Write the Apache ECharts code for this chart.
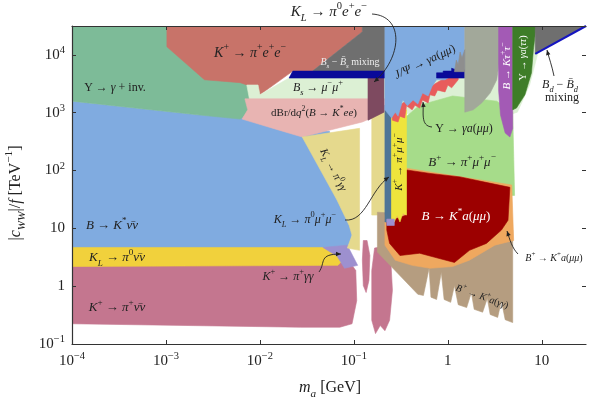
<!DOCTYPE html>
<html><head><meta charset="utf-8">
<script src="https://cdn.jsdelivr.net/npm/echarts@6/dist/echarts.min.js"></script>
<style>html,body{margin:0;padding:0;background:#fff}#c{width:589px;height:398px}</style>
</head><body><div id="c"></div>
<script>
// Region outlines.
// Each vertex: [log10(m_a / GeV), log10(|c_WW|/f / TeV^-1)]
const regB_Kstar_nunu = [[-4,3.20],[-2.64,2.96],[-2.16,2.93],[-1.57,2.70],[-1.26,2.68],[-1.10,1.49],[-1.01,0.97],[-1.06,0.62],[-4,0.62]];
const regUps_inv = [[-4,4.5],[-2.11,4.5],[-2.11,3.48],[-2.07,3.22],[-2.11,3.01],[-2.21,2.89],[-2.64,2.96],[-4,3.20]];
const regK_pi_nunu = [[-4,0.41],[-1.04,0.41],[-0.98,0.27],[-0.97,-0.25],[-1.02,-0.65],[-1.15,-0.71],[-1.57,-0.71],[-4,-0.65]];
const regK_pi_nunu_b1 = [[-0.90,0.79],[-0.86,0.79],[-0.83,0.53],[-0.84,0.10],[-0.87,-0.11],[-0.90,0.01],[-0.91,0.45]];
const regK_pi_nunu_b2 = [[-0.78,0.66],[-0.67,0.69],[-0.61,0.53],[-0.59,-0.07],[-0.62,-0.59],[-0.67,-0.77],[-0.72,-0.68],[-0.77,-0.82],[-0.81,-0.59],[-0.81,0.27]];
const regKL_pi0_nunu = [[-4,0.67],[-1.33,0.67],[-1.15,0.59],[-1.10,0.48],[-1.17,0.36],[-4,0.34]];
const regK_pi_gg = [[-1.33,0.67],[-1.07,0.71],[-0.96,0.36],[-1.10,0.31],[-1.18,0.52]];
const regK_pi_ee = [[-2.99,4.5],[-0.91,4.5],[-0.91,4.40],[-1.44,3.72],[-1.65,3.72],[-2.0,3.31],[-2.05,3.43],[-2.21,3.52],[-2.59,3.57],[-2.99,4.14]];
const regBs_mumu_a = [[-2.14,3.48],[-2.02,3.48],[-2.0,3.31],[-1.69,3.60],[-0.67,3.60],[-0.67,3.22],[-2.11,3.22]];
const regBs_mumu_b = [[-0.67,3.60],[0.18,3.71],[0.98,4.5],[0.98,4.17],[0.87,3.48],[0.74,3.01],[0.55,2.91],[0.23,2.91],[-0.67,3.01]];
const regB_Kstar_ee = [[-2.16,3.24],[-0.67,3.24],[-0.67,3.01],[-0.91,2.84],[-1.55,2.58],[-1.84,2.72],[-2.19,2.89],[-2.13,3.05]];
const regKL_pi0_gg_a = [[-1.55,2.58],[-0.94,2.73],[-0.94,0.62],[-1.07,0.66],[-1.02,0.88],[-1.05,1.05],[-1.18,1.49]];
const regKL_pi0_gg_b = [[-0.81,2.93],[-0.67,3.01],[-0.67,1.23],[-0.81,1.23]];
const regKL_pi0_ee = [[-0.85,3.60],[-0.68,3.60],[-0.68,3.01],[-0.85,2.87]];
const regBs_mix = [[-1.44,3.72],[-0.91,4.40],[-0.91,4.5],[-0.67,4.5],[-0.67,3.72]];
const regBs_mix_band = [[-1.65,3.72],[-0.67,3.72],[-0.67,3.60],[-1.69,3.60]];
const regB_pi_mumu = [[-0.46,2.91],[-0.30,3.13],[0.05,3.29],[0.52,3.20],[0.69,3.01],[0.71,1.57],[-0.46,1.57]];
const regB_K_gg = [[-0.75,1.28],[-0.56,1.26],[0.69,0.97],[0.69,-0.63],[0.61,-0.58],[0.57,-0.25],[0.53,-0.54],[0.45,-0.49],[0.42,-0.21],[0.37,-0.45],[0.28,-0.40],[0.25,-0.11],[0.20,-0.37],[0.11,-0.32],[0.07,0.01],[0.03,-0.28],[-0.04,-0.23],[-0.07,0.24],[-0.12,-0.23],[-0.18,-0.19],[-0.20,0.31],[-0.26,-0.16],[-0.32,-0.14],[-0.75,0.59]];
const regB_K_mumu = [[-0.67,1.23],[-0.44,2.04],[0.68,1.75],[0.70,0.79],[0.50,0.71],[0.23,0.45],[0.05,0.34],[-0.19,0.31],[-0.38,0.36],[-0.56,0.45],[-0.67,0.71]];
const regB_Kstar_mumu = [[-0.44,2.01],[-0.19,1.95],[0.13,1.89],[0.39,1.80],[0.66,1.71],[0.64,1.14],[0.57,0.97],[0.41,0.74],[0.23,0.62],[0.07,0.41],[-0.14,0.50],[-0.30,0.57],[-0.51,0.53],[-0.62,0.74],[-0.65,0.97],[-0.65,1.11],[-0.44,1.23]];
const regKL_pi0_mumu = [[-0.67,3.13],[-0.60,3.13],[-0.60,1.11],[-0.67,1.11]];
const regK_pi_mumu = [[-0.60,2.93],[-0.44,3.05],[-0.44,1.23],[-0.48,1.26],[-0.51,1.11],[-0.54,1.23],[-0.57,1.11],[-0.60,1.11]];
const regK_pi_gg_b = [[-0.65,1.16],[-0.57,1.16],[-0.57,1.05],[-0.65,1.05]];
const regUps_mumu = [[-0.60,3.05],[0.11,3.74],[0.11,3.57],[0.04,3.43],[0.0,3.48],[-0.03,3.36],[-0.11,3.39],[-0.14,3.29],[-0.19,3.31],[-0.21,3.17],[-0.27,3.22],[-0.30,3.08],[-0.35,3.13],[-0.38,3.05],[-0.44,3.12],[-0.46,2.91],[-0.51,2.94],[-0.53,2.84],[-0.59,2.87]];
const regJpsi = [[-0.67,4.5],[0.18,4.5],[0.18,3.71],[0.11,3.62],[0.02,3.62],[-0.03,3.57],[-0.12,3.57],[-0.17,3.45],[-0.21,3.29],[-0.27,3.34],[-0.32,3.15],[-0.37,3.22],[-0.43,3.12],[-0.48,3.22],[-0.53,2.94],[-0.56,3.01],[-0.60,2.91],[-0.67,3.05]];
const regJpsi_band = [[-0.12,3.60],[-0.12,3.69],[-0.05,3.69],[-0.05,3.72],[0.04,3.72],[0.04,3.77],[0.09,3.74],[0.18,3.74],[0.18,3.60]];
const regSage = [[0.18,4.5],[0.55,4.5],[0.55,3.91],[0.52,3.57],[0.45,3.34],[0.36,3.17],[0.27,3.05],[0.18,3.01]];
const regSage_spikes = [[0.07,3.71],[0.09,3.91],[0.11,3.83],[0.13,4.05],[0.15,3.95],[0.18,4.09],[0.18,3.71]];
const regB_K_tautau = [[0.54,4.5],[0.69,4.5],[0.69,2.73],[0.66,2.58],[0.61,2.65],[0.56,2.96],[0.54,3.39]];
const regUps_tautau = [[0.69,4.5],[0.94,4.5],[0.91,4.09],[0.89,3.69],[0.82,3.31],[0.73,3.08],[0.69,3.05]];
const regBd_mix = [[0.93,4.5],[1.47,4.5],[0.93,4.02]];
const lineBd_mix = [[0.93,4.02],[1.47,4.5]];

// Axis ranges (log10) and tick positions (log10)
const xRange = [-4, 1.47];
const yRange = [-1, 4.5];
const xTickExps = [-4,-3,-2,-1,0,1];
const yTickExps = [-1,0,1,2,3,4];

const SERIF = '"Liberation Serif","DejaVu Serif",serif';
const p10 = e => Math.pow(10,e);
const toVal = a => a.map(([x,y]) => [p10(x), p10(y)]);

const layers = [
  [regB_Kstar_nunu,'#80ABE0'],[regUps_inv,'#7DBB98'],
  [regK_pi_nunu,'#C4768F'],[regK_pi_nunu_b1,'#C4768F'],[regK_pi_nunu_b2,'#C4768F'],
  [regKL_pi0_nunu,'#F1D13C'],[regK_pi_gg,'#9D90CF'],
  [regK_pi_ee,'#C87369'],[regBs_mumu_a,'#DCF0D4'],[regBs_mumu_b,'#DCF0D4'],
  [regB_Kstar_ee,'#E8B4B2'],[regKL_pi0_gg_a,'#E5D98D'],[regKL_pi0_gg_b,'#E5D98D'],
  [regKL_pi0_ee,'#7E4A60'],[regBs_mix,'#6F6F6F'],[regBs_mix_band,'#0A0A99'],
  [regB_pi_mumu,'#A6DC8A'],[regB_K_gg,'#B59D80'],[regB_K_mumu,'#EFA85F'],[regB_Kstar_mumu,'#9C0000'],
  [regKL_pi0_mumu,'#4F7597'],[regK_pi_mumu,'#EEE43C'],[regK_pi_gg_b,'#9D90CF'],
  [regUps_mumu,'#E85C5C'],[regJpsi,'#80ABE0'],[regJpsi_band,'#0A0A99'],
  [regSage,'#A2A89A'],[regSage_spikes,'#8E8E8E'],[regB_K_tautau,'#A35AB5'],[regUps_tautau,'#3E7D28'],
  [regBd_mix,'#6F6F6F']
];

const series = layers.map(([pts,color]) => ({
  type:'custom', coordinateSystem:'cartesian2d', silent:true, clip:true, z:2,
  data:[toVal(pts)[0]],
  renderItem:(params,api)=>({type:'polygon',shape:{points:toVal(pts).map(p=>api.coord(p))},style:{fill:color,stroke:color,lineWidth:0.6}})
}));
series.push({type:'line', data:toVal(lineBd_mix), symbol:'none', silent:true, z:3, lineStyle:{color:'#1515C0',width:2}});

function rich(fs,color){
  const b={fontFamily:SERIF,fill:color,color:color};
  return {
    r:Object.assign({},b,{fontSize:fs,lineHeight:fs*1.5}),
    i:Object.assign({},b,{fontSize:fs,fontStyle:'italic',lineHeight:fs*1.5}),
    p:Object.assign({},b,{fontSize:fs*0.7,verticalAlign:'top',lineHeight:fs*0.9}),
    b:Object.assign({},b,{fontSize:fs*0.7,fontStyle:'italic',verticalAlign:'bottom',lineHeight:fs*0.9})
  };
}
function label(x,y,text,fs,color,rot){
  color=color||'#222';
  return {type:'text',x,y,rotation:rot||0,z:100,silent:true,
    style:{text,rich:rich(fs,color),fill:color,font:fs+'px '+SERIF,align:'center',verticalAlign:'middle',textAlign:'center',textVerticalAlign:'middle'}};
}
function arrow(x1,y1,c1x,c1y,c2x,c2y,x2,y2){
  const a=Math.atan2(y2-c2y,x2-c2x),L=5,W=2.2,c=Math.cos(a),s=Math.sin(a);
  return [{type:'bezierCurve',z:100,silent:true,shape:{x1,y1,cpx1:c1x,cpy1:c1y,cpx2:c2x,cpy2:c2y,x2,y2},style:{stroke:'#222',lineWidth:0.9,fill:'none'}},
    {type:'polygon',z:100,silent:true,shape:{points:[[x2,y2],[x2-L*c+W*s,y2-L*s-W*c],[x2-L*c-W*s,y2-L*s+W*c]]},style:{fill:'#222'}}];
}
const W='#fff';
const graphics = [
  label(329,12,'{i|K}{b|L}{r| → }{i|π}{p|0}{i|e}{p|+}{i|e}{p|−}',15),
  label(250,53,'{i|K}{p|+}{r| → }{i|π}{p|+}{i|e}{p|+}{i|e}{p|−}',14),
  label(350,62,'{i|B}{b|s}{r| − }{i|B̄}{b|s}{r| mixing}',10,'#eee'),
  label(318,88,'{i|B}{b|s}{r| → }{i|μ}{p|−}{i|μ}{p|+}',12),
  label(314,113,'{r|dBr/d}{i|q}{p|2}{r|(}{i|B}{r| → }{i|K}{p|*}{i|ee}{r|)}',11),
  label(333,170,'{i|K}{b|L}{r| → }{i|π}{p|0}{i|γγ}',11,null,-1.1),
  label(115,88,'{r|Υ → }{i|γ}{r| + inv.}',12),
  label(112,226,'{i|B}{r| → }{i|K}{p|*}{i|ν̄ν}',13),
  label(117,258,'{i|K}{b|L}{r| → }{i|π}{p|0}{i|ν̄ν}',13),
  label(117,308,'{i|K}{p|+}{r| → }{i|π}{p|+}{i|ν̄ν}',13),
  label(305,220,'{i|K}{b|L}{r| → }{i|π}{p|0}{i|μ}{p|+}{i|μ}{p|−}',12),
  label(288,277,'{i|K}{p|+}{r| → }{i|π}{p|+}{i|γγ}',12),
  label(425,62,'{i|J/Ψ}{r| → }{i|γa}{r|(}{i|μμ}{r|)}',12,null,0.44),
  label(464,129,'{r|Υ → }{i|γa}{r|(}{i|μμ}{r|)}',12),
  label(399,162,'{i|K}{p|+}{r| → }{i|π}{p|+}{i|μ}{p|+}{i|μ}{p|−}',11,null,Math.PI/2),
  label(462,163,'{i|B}{p|+}{r| → }{i|π}{p|+}{i|μ}{p|+}{i|μ}{p|−}',13),
  label(456,217,'{i|B}{r| → }{i|K}{p|*}{i|a}{r|(}{i|μμ}{r|)}',13,W),
  label(554,258,'{i|B}{p|+}{r| → }{i|K}{p|+}{i|a}{r|(}{i|μμ}{r|)}',10),
  label(482,297,'{i|B}{p|+}{r| → }{i|K}{p|+}{i|a}{r|(}{i|γγ}{r|)}',10,null,-0.34),
  label(507,66,'{i|B}{r| → }{i|Kτ}{p|+}{i|τ}{p|−}',11,W,Math.PI/2),
  label(523,58,'{r|Υ → }{i|γa}{r|(}{i|ττ}{r|)}',10,W,Math.PI/2),
  label(560,85,'{i|B}{b|d}{r| − }{i|B̄}{b|d}',12),
  label(562,98,'{r|mixing}',12),
  label(330,388,'{i|m}{b|a}{r| [GeV]}',16),
  label(16,193,'{r||}{i|c}{b|WW}{r||/}{i|f}{r| [TeV}{p|−1}{r|]}',16,null,Math.PI/2)
].concat(
  arrow(372,14,405,16,402,58,374,82),
  arrow(345,220,366,222,370,190,389,177),
  arrow(319,272,326,262,318,254,341,254),
  arrow(432,127,420,126,424,112,423,102),
  arrow(518,254,512,248,510,240,507,231),
  arrow(554,76,552,66,549,58,547,50)
);

function tickLabel(v){
  const le=Math.log10(v), e=Math.round(le);
  if(Math.abs(le-e)>1e-6) return '';
  if(e===0) return '{b|1}';
  if(e===1) return '{b|10}';
  return '{b|10}{s|'+(e<0?'−'+(-e):e)+'}';
}
const tickRich={b:{fontSize:15,fontFamily:SERIF,color:'#222',lineHeight:20},s:{fontSize:10.5,fontFamily:SERIF,color:'#222',verticalAlign:'top',lineHeight:10}};
const axLine={show:true,lineStyle:{color:'#333',width:1.2}};
const xTicks=xTickExps.map(p10), yTicks=yTickExps.map(p10);
const mkTick=vals=>({show:true,inside:true,length:4,lineStyle:{color:'#333',width:1},customValues:vals});

const chart=echarts.init(document.getElementById('c'),null,{renderer:'canvas'});
chart.setOption({
  animation:false,
  grid:{left:72,right:3,top:26,bottom:54},
  xAxis:[
    {type:'log',logBase:10,min:p10(xRange[0]),max:p10(xRange[1]),position:'bottom',z:10,axisLine:axLine,axisTick:mkTick(xTicks),splitLine:{show:false},minorTick:{show:false},
     axisLabel:{formatter:tickLabel,rich:tickRich,margin:7,customValues:xTicks}},
    {type:'log',logBase:10,min:p10(xRange[0]),max:p10(xRange[1]),position:'top',z:10,axisLine:axLine,axisTick:mkTick(xTicks),splitLine:{show:false},axisLabel:{show:false}}
  ],
  yAxis:[
    {type:'log',logBase:10,min:p10(yRange[0]),max:p10(yRange[1]),position:'left',z:10,axisLine:axLine,axisTick:mkTick(yTicks),splitLine:{show:false},minorTick:{show:false},
     axisLabel:{formatter:tickLabel,rich:tickRich,margin:7,customValues:yTicks}},
    {type:'log',logBase:10,min:p10(yRange[0]),max:p10(yRange[1]),position:'right',z:10,axisLine:{show:false},axisTick:mkTick(yTicks),splitLine:{show:false},axisLabel:{show:false}}
  ],
  series:series,
  graphic:graphics
});
</script></body></html>
